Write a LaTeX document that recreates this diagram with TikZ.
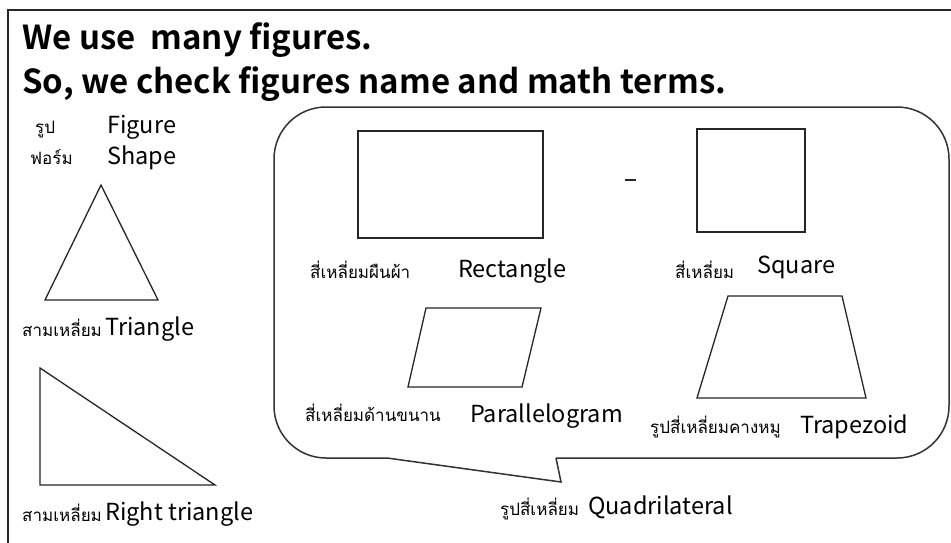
\documentclass[tikz,border=0pt]{standalone}
\usepackage{fontspec}
\setmainfont{Noto Sans CJK JP}
\newfontfamily\titlefont{Noto Sans CJK JP Bold}
\newfontfamily\thaifont[Script=Thai]{Loma}
\begin{document}
\begin{tikzpicture}[x=1pt,y=-1pt,
  shapeline/.style={draw=black!85,line width=1.3pt,line join=miter},
  lat/.style={anchor=base west,inner sep=0pt,font=\fontsize{23.5}{23.5}\selectfont},
  thai/.style={anchor=base west,inner sep=0pt,font=\thaifont\fontsize{17}{17}\selectfont},
  ttl/.style={anchor=base west,inner sep=0pt,font=\titlefont\fontsize{33}{33}\selectfont}]
\useasboundingbox (0,0) rectangle (951,543);
\fill[white] (0,0) rectangle (951,543);
% frame
\draw[line width=2pt,black!85] (951,10) -- (8,10) -- (8,543);
% title
\node[ttl] (t1) at (22,50) {We use \ many figures.};
\node[ttl] (t2) at (22,94) {So, we check figures name and math terms.};
% left labels
\node[thai] (th1) at (35,133) {รูป};
\node[lat] (l1) at (107,133) {Figure};
\node[thai] (th2) at (30,164) {ฟอร์ม};
\node[lat] (l2) at (107,164) {Shape};
% triangle
\draw[shapeline] (101,185) -- (158,300) -- (45,300) -- cycle;
\node[thai] (th3) at (22,336) {สามเหลี่ยม};
\node[lat] (l3) at (105,335) {Triangle};
% right triangle
\draw[shapeline] (40,368) -- (215,485) -- (40,485) -- cycle;
\node[thai] (th4) at (22,521) {สามเหลี่ยม};
\node[lat] (l4) at (105,520) {Right triangle};
% speech bubble
\draw[line width=1.5pt,black!80,rounded corners=52pt] (387,458) -- (274,458) -- (274,107) -- (949,107) -- (949,458) -- (556,458);
\draw[line width=1.5pt,black!80,line join=miter] (556,458) -- (561,482) -- (387,458);
% rectangle
\draw[shapeline] (358,131) rectangle (543,238);
\draw[line width=1.3pt,black!85] (625,180) -- (636,180);
% square
\draw[shapeline] (697,129) rectangle (805,232);
\node[thai] (th5) at (310,278) {สี่เหลี่ยมผืนผ้า};
\node[lat] (l5) at (458,277) {Rectangle};
\node[thai] (th6) at (675,278) {สี่เหลี่ยม};
\node[lat] (l6) at (757,273) {Square};
% parallelogram
\draw[shapeline] (426,308) -- (541,308) -- (522,387) -- (408,387) -- cycle;
% trapezoid
\draw[shapeline] (728,296) -- (842,296) -- (866,398) -- (697,398) -- cycle;
\node[thai] (th7) at (305,421) {สี่เหลี่ยมด้านขนาน};
\node[lat] (l7) at (470,422) {Parallelogram};
\node[thai] (th8) at (650,433) {รูปสี่เหลี่ยมคางหมู};
\node[lat] (l8) at (800,433) {Trapezoid};
% quadrilateral
\node[thai] (th9) at (500,515) {รูปสี่เหลี่ยม};
\node[lat] (l9) at (588,514) {Quadrilateral};
\end{tikzpicture}
\end{document}
